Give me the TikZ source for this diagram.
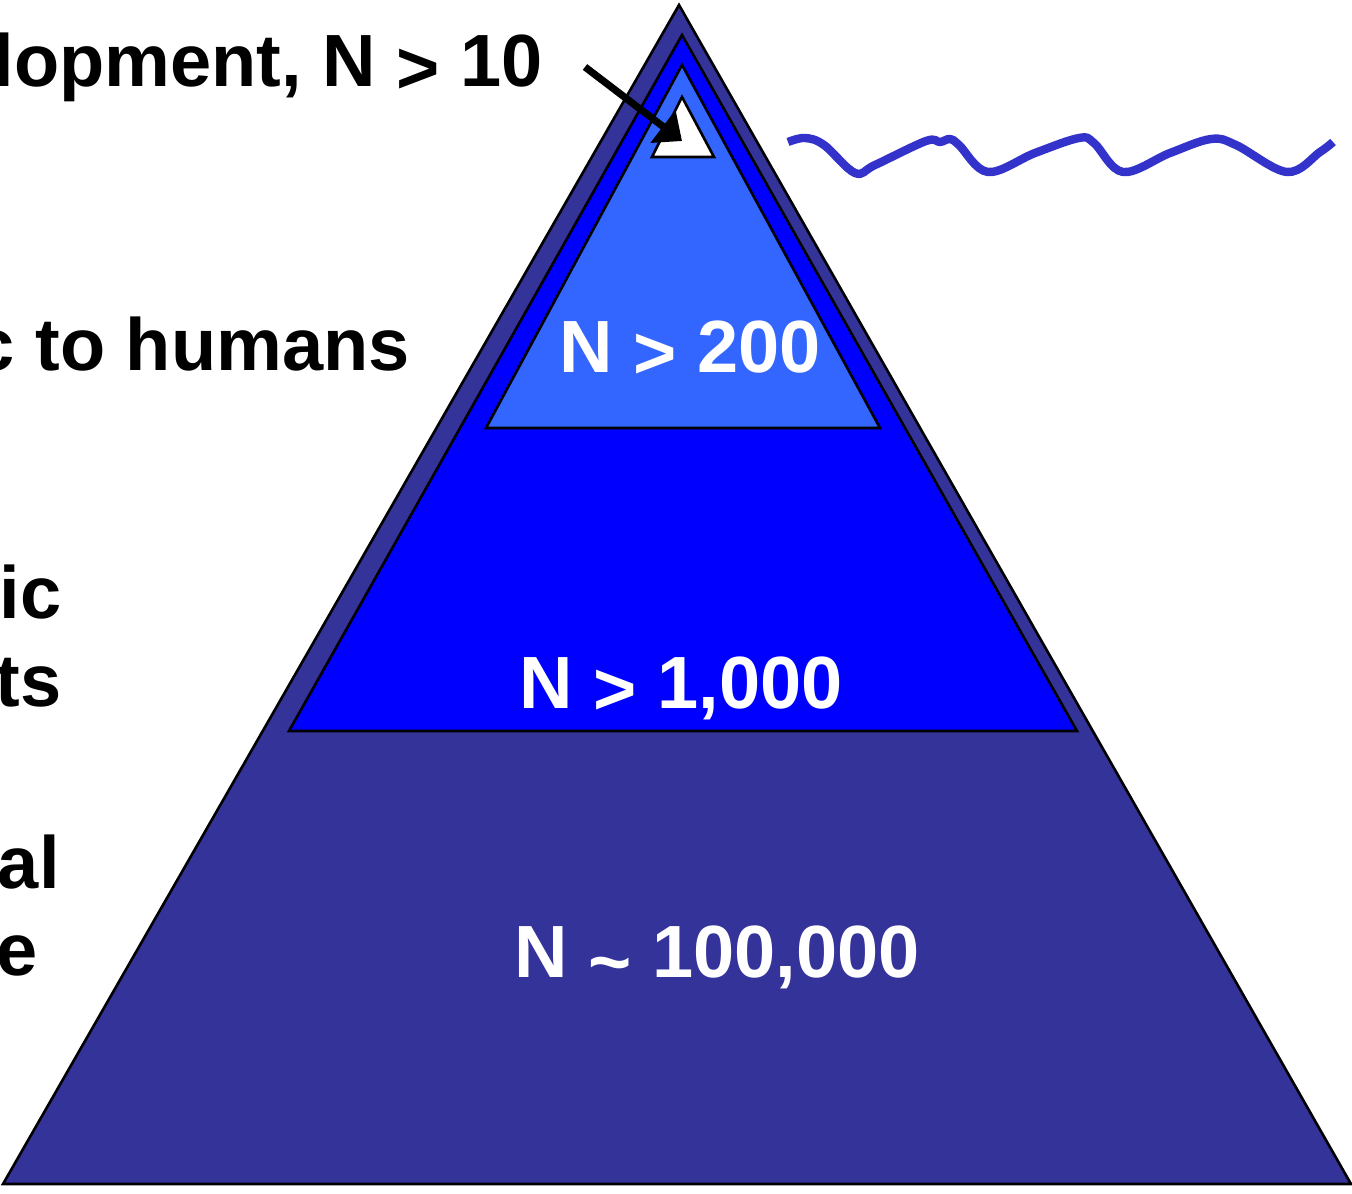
\documentclass[tikz,border=0pt]{standalone}
\usepackage{fontspec}
\setmainfont{Liberation Sans}
\usepackage{tikz}
\usetikzlibrary{arrows.meta}
\usepackage{xcolor}

\definecolor{deepblue}{HTML}{333399}
\definecolor{pureblue}{HTML}{0000FF}
\definecolor{skyblue}{HTML}{3366FF}
\definecolor{wavecol}{HTML}{3333CC}

\newcommand{\bigfont}{\fontsize{37pt}{44pt}\selectfont\bfseries}
\newcommand{\lowgt}{\raisebox{-3pt}{>}}
\newcommand{\lowtilde}{\raisebox{-5pt}{\textasciitilde}}

\begin{document}
\begin{tikzpicture}[x=0.5pt, y=-0.5pt,
    layer/.style={draw=black, line width=1.3pt, line join=miter},
    lbl/.style={anchor=base east, inner sep=0pt, font=\bigfont},
    num/.style={anchor=base, inner sep=0pt, text=white, font=\bigfont},
    pointer/.style={line width=3.6pt, -{Triangle[width=20pt, length=12pt]}}]

        \clip (0,0) rectangle (1352,1193);

        % Pyramid layers, from the base up
        \draw[layer, fill=deepblue] (3,1184) -- (679,5) -- (1351,1184) -- cycle;
        \draw[layer, fill=pureblue] (289,731) -- (682,35) -- (1077,731) -- cycle;
        \draw[layer, fill=skyblue] (486,428) -- (682,65) -- (880,428) -- cycle;
        \draw[layer, fill=white] (652,157) -- (682,97) -- (714,157) -- cycle;

        % Numbers in the layers
        \node[num] (n200) at (690,372) {N \lowgt{} 200};
        \node[num] (n1k) at (681,708) {N \lowgt{} 1,000};
        \node[num] (n100k) at (717,977) {N \lowtilde{} 100,000};

        % Labels on the left (cut by the page edge)
        \node[lbl] (dev) at (543,87) {lopment, N \lowgt{} 10};
        \node[lbl] (hum) at (410,370) {c to humans};
        \node[lbl] (ic) at (62,618) {ic};
        \node[lbl] (ts) at (62,706) {ts};
        \node[lbl] (al) at (60,888) {al};
        \node[lbl] (e) at (38,975) {e};

        % Arrow to the tip
        \coordinate (from) at (585,67);
        \coordinate (tip) at (682,141);
        \draw[pointer] (from) -- (tip);

        % Water line
        \draw[wavecol, line width=4.2pt, line cap=butt, line join=round] plot[smooth, tension=0.6] coordinates {
            (788,142) (805,138) (824,145) (855,173) (875,165) (926,141) (940,142)
            (950,139) (959,145) (988,172) (1035,153) (1079,138) (1094,143) (1123,172)
            (1170,153) (1211,139) (1236,145) (1287,172) (1320,152) (1333,142)};

    \end{tikzpicture}
\end{document}
